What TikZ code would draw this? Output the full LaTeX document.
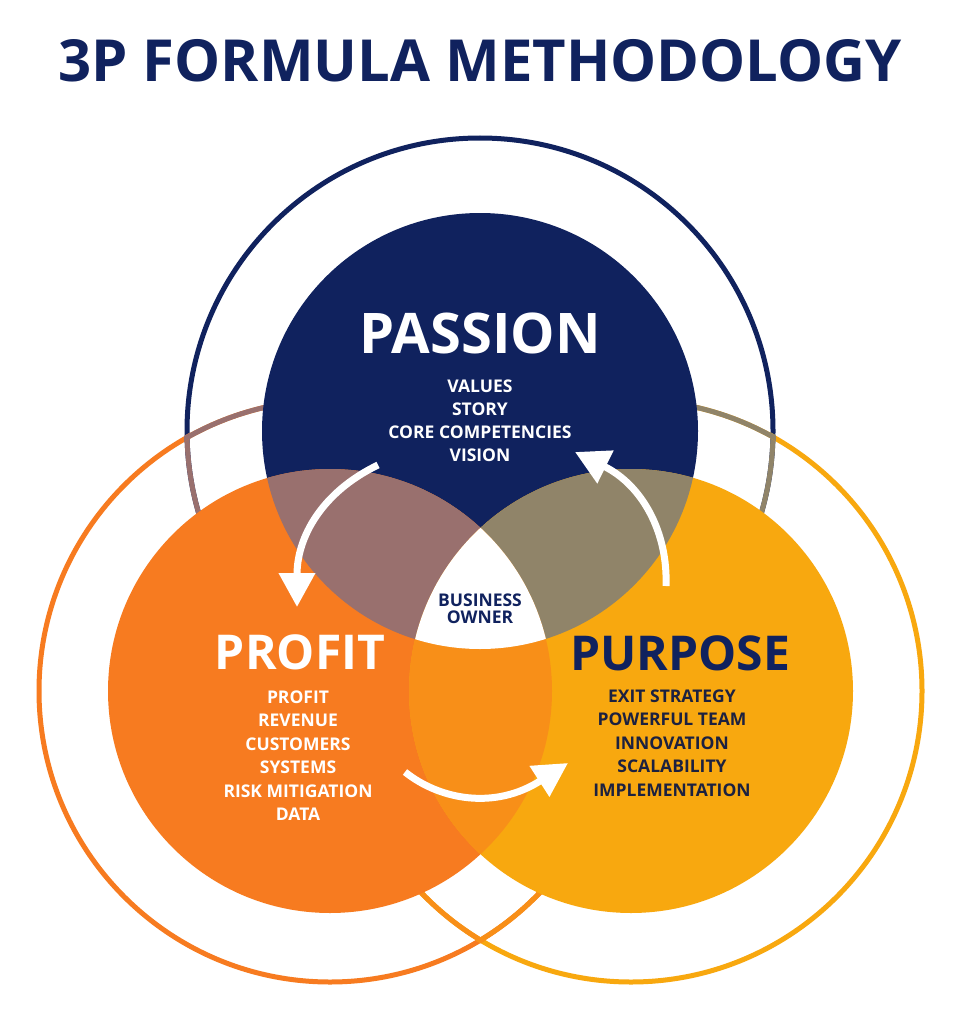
\documentclass[tikz,border=0pt]{standalone}
\usepackage{fontspec}
\setmainfont{Open Sans}
\usepackage{tkz-euclide}
\usetikzlibrary{arrows.meta}
\definecolor{passionblue}{HTML}{10225E}
\definecolor{profitorange}{HTML}{F77B20}
\definecolor{purposegold}{HTML}{F8A80F}
\definecolor{passprofit}{HTML}{99706E}
\definecolor{passpurpose}{HTML}{908469}
\definecolor{profitpurpose}{HTML}{F88F18}
\definecolor{purposetext}{HTML}{1C2140}
\tikzset{
	ring/.style={line width=5pt},
	cyclearrow/.style={white, line width=7pt, -{Triangle[width=35pt,length=34pt]}},
	bigtitle/.style={anchor=base, font=\fontsize{48}{50}\selectfont\bfseries},
	listitem/.style={anchor=base, font=\fontsize{17.5}{20}\selectfont\bfseries},
}

\begin{document}
\begin{tikzpicture}[x=1pt,y=-1pt]
		\fill[white] (0,0) rectangle (961,1022);
		\useasboundingbox (0,0) rectangle (961,1022);
		\tkzDefPoints{480/431/Pas,330/691/Pro,631/691/Pur}

		\draw[ring,passionblue] (Pas) circle[radius=293pt];
		\begin{scope}
			\clip (Pro) circle[radius=294pt];
			\draw[ring,passprofit] (Pas) circle[radius=293pt];
		\end{scope}
		\begin{scope}
			\clip (Pur) circle[radius=294pt];
			\draw[ring,passpurpose] (Pas) circle[radius=293pt];
		\end{scope}
		\draw[ring,profitorange] (Pro) circle[radius=291pt];
		\begin{scope}
			\clip (Pas) circle[radius=296pt];
			\draw[ring,passprofit] (Pro) circle[radius=291pt];
		\end{scope}
		\begin{scope}
			\clip (Pur) circle[radius=294pt];
			\draw[ring,profitpurpose] (Pro) circle[radius=291pt];
		\end{scope}
		\draw[ring,purposegold] (Pur) circle[radius=291pt];
		\begin{scope}
			\clip (Pas) circle[radius=296pt];
			\draw[ring,passpurpose] (Pur) circle[radius=291pt];
		\end{scope}
		\begin{scope}
			\clip (Pro) circle[radius=294pt];
			\draw[ring,profitpurpose] (Pur) circle[radius=291pt];
		\end{scope}

		\fill[passionblue] (Pas) circle[radius=218pt];
		\fill[profitorange] (Pro) circle[radius=222pt];
		\fill[purposegold] (Pur) circle[radius=222pt];
		\begin{scope}
			\clip (Pas) circle[radius=218pt];
			\fill[passprofit] (Pro) circle[radius=222pt];
			\fill[passpurpose] (Pur) circle[radius=222pt];
		\end{scope}
		\begin{scope}
			\clip (Pro) circle[radius=222pt];
			\fill[profitpurpose] (Pur) circle[radius=222pt];
			\clip (Pas) circle[radius=218pt];
			\fill[white] (Pur) circle[radius=222pt];
		\end{scope}

		\node[anchor=base, passionblue, font=\fontsize{58}{60}\selectfont\bfseries] (title) at (480,82) {3P FORMULA METHODOLOGY};
		\node[bigtitle, white, font=\fontsize{56}{58}\selectfont\bfseries] (passion) at (480,353) {PASSION};
		\node[bigtitle, white] (profit) at (300,669) {PROFIT};
		\node[bigtitle, passionblue] (purpose) at (680,670) {PURPOSE};
		\node[listitem, passionblue] (owner1) at (480,606) {BUSINESS};
		\node[listitem, passionblue] (owner2) at (480,623) {OWNER};

		\foreach \txt [count=\i from 0] in {VALUES,STORY,CORE COMPETENCIES,VISION}
			\node[listitem, white] (passion\i) at (480,{392+23.3*\i}) {\txt};
		\foreach \txt [count=\i from 0] in {PROFIT,REVENUE,CUSTOMERS,SYSTEMS,RISK MITIGATION,DATA}
			\node[listitem, white] (profit\i) at (298,{703+23.5*\i}) {\txt};
		\foreach \txt [count=\i from 0] in {EXIT STRATEGY,POWERFUL TEAM,INNOVATION,SCALABILITY,IMPLEMENTATION}
			\node[listitem, purposetext] (purpose\i) at (672,{702+23.5*\i}) {\txt};

		\tkzDefPoints{378/465/a1,297/607/b1,666/586/a2,575/452/b2,405/772/a3,568/763/b3}
		\draw[cyclearrow] (a1) .. controls (322,492) and (297,537) .. (b1);
		\draw[cyclearrow] (a2) .. controls (668,532) and (642,485) .. (b2);
		\draw[cyclearrow] (a3) .. controls (440,800) and (495,810) .. (b3);
	\end{tikzpicture}
\end{document}
